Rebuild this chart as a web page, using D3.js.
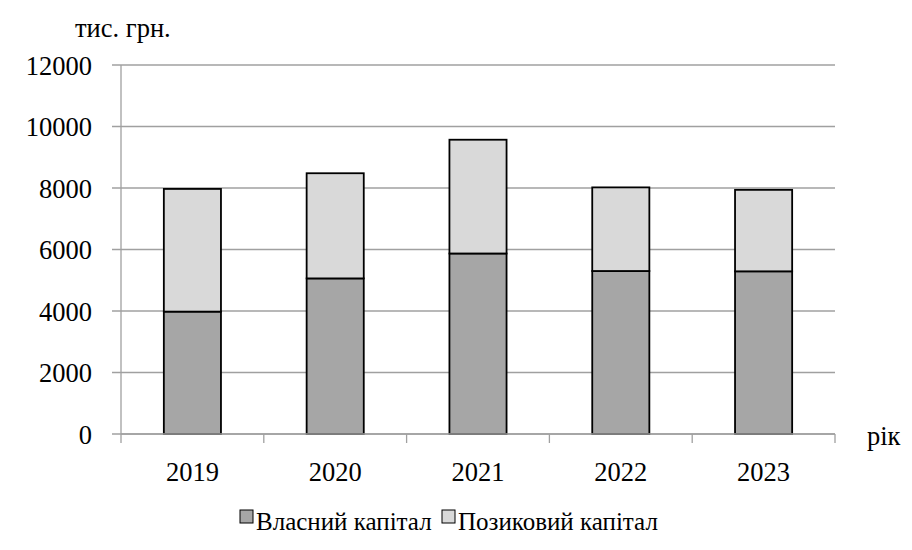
<!DOCTYPE html>
<html>
<head>
<meta charset="utf-8">
<script src="https://cdnjs.cloudflare.com/ajax/libs/d3/7.8.5/d3.min.js"></script>
<style>
  body { margin: 0; background: #fff; }
  svg text { font-family: 'Liberation Serif', 'Times New Roman', serif; }
</style>
</head>
<body>
<script>
// chart data
const years = ["2019", "2020", "2021", "2022", "2023"];
const ownCapital = [3980, 5060, 5870, 5300, 5290];
const loanCapital = [3990, 3420, 3700, 2720, 2650];
const seriesNames = ["Власний капітал", "Позиковий капітал"];
const seriesColors = ["#a6a6a6", "#d9d9d9"];
const yTicks = [0, 2000, 4000, 6000, 8000, 10000, 12000];

const width = 912, height = 550;
const margin = { left: 121, right: 77, top: 65, bottom: 116 };
const fontSize = 26.5;

const svg = d3.select("body").append("svg")
  .attr("width", width)
  .attr("height", height);

const x = d3.scaleBand()
  .domain(years)
  .range([margin.left, width - margin.right])
  .paddingInner(0.6)
  .paddingOuter(0.3);

const xOuter = d3.scaleBand()
  .domain(years)
  .range([margin.left, width - margin.right]);

const y = d3.scaleLinear()
  .domain([0, 12000])
  .range([height - margin.bottom, margin.top]);

// gridlines
svg.append("g")
  .selectAll("line")
  .data(yTicks)
  .join("line")
  .attr("x1", margin.left - 9)
  .attr("x2", width - margin.right)
  .attr("y1", d => y(d))
  .attr("y2", d => y(d))
  .attr("stroke", "#a0a0a0")
  .attr("stroke-width", 1.3);

// y labels
svg.append("g")
  .selectAll("text")
  .data(yTicks)
  .join("text")
  .attr("x", 92)
  .attr("y", d => y(d))
  .attr("dy", "0.36em")
  .attr("text-anchor", "end")
  .attr("font-size", fontSize)
  .text(d => d);

// stacked bars
const stackData = years.map((yr, i) => ({ year: yr, own: ownCapital[i], loan: loanCapital[i] }));
const stack = d3.stack().keys(["own", "loan"])(stackData);

svg.append("g")
  .selectAll("g")
  .data(stack)
  .join("g")
  .attr("fill", (d, i) => seriesColors[i])
  .selectAll("rect")
  .data(d => d)
  .join("rect")
  .attr("x", d => x(d.data.year))
  .attr("y", d => y(d[1]))
  .attr("width", x.bandwidth())
  .attr("height", d => y(d[0]) - y(d[1]))
  .attr("stroke", "#000")
  .attr("stroke-width", 1.8);

// y axis line
svg.append("line")
  .attr("x1", margin.left).attr("x2", margin.left)
  .attr("y1", margin.top).attr("y2", height - margin.bottom + 9)
  .attr("stroke", "#a0a0a0").attr("stroke-width", 1.3);

// x axis line and ticks
const x0 = height - margin.bottom;
svg.append("line")
  .attr("x1", margin.left).attr("x2", width - margin.right)
  .attr("y1", x0).attr("y2", x0)
  .attr("stroke", "#a0a0a0").attr("stroke-width", 1.3);

const tickPos = years.map(d => xOuter(d) + xOuter.bandwidth());
svg.append("g")
  .selectAll("line")
  .data(tickPos)
  .join("line")
  .attr("x1", d => d).attr("x2", d => d)
  .attr("y1", x0).attr("y2", x0 + 9)
  .attr("stroke", "#a0a0a0").attr("stroke-width", 1.3);

// x labels
svg.append("g")
  .selectAll("text")
  .data(years)
  .join("text")
  .attr("x", d => x(d) + x.bandwidth() / 2)
  .attr("y", 481)
  .attr("text-anchor", "middle")
  .attr("font-size", fontSize)
  .text(d => d);

// axis titles
svg.append("text")
  .attr("x", 75).attr("y", 37)
  .attr("font-size", fontSize)
  .text("тис. грн.");

svg.append("text")
  .attr("x", 867).attr("y", 445)
  .attr("font-size", fontSize)
  .text("рік");

// legend
const legendX = [240, 442];
const legend = svg.append("g")
  .selectAll("g")
  .data(seriesNames)
  .join("g")
  .attr("transform", (d, i) => `translate(${legendX[i]},0)`);

legend.append("rect")
  .attr("x", 0).attr("y", 510)
  .attr("width", 13).attr("height", 13)
  .attr("fill", (d, i) => seriesColors[i])
  .attr("stroke", "#000").attr("stroke-width", 1);

legend.append("text")
  .attr("x", 16).attr("y", 530)
  .attr("font-size", 25)
  .text(d => d);
</script>
</body>
</html>
